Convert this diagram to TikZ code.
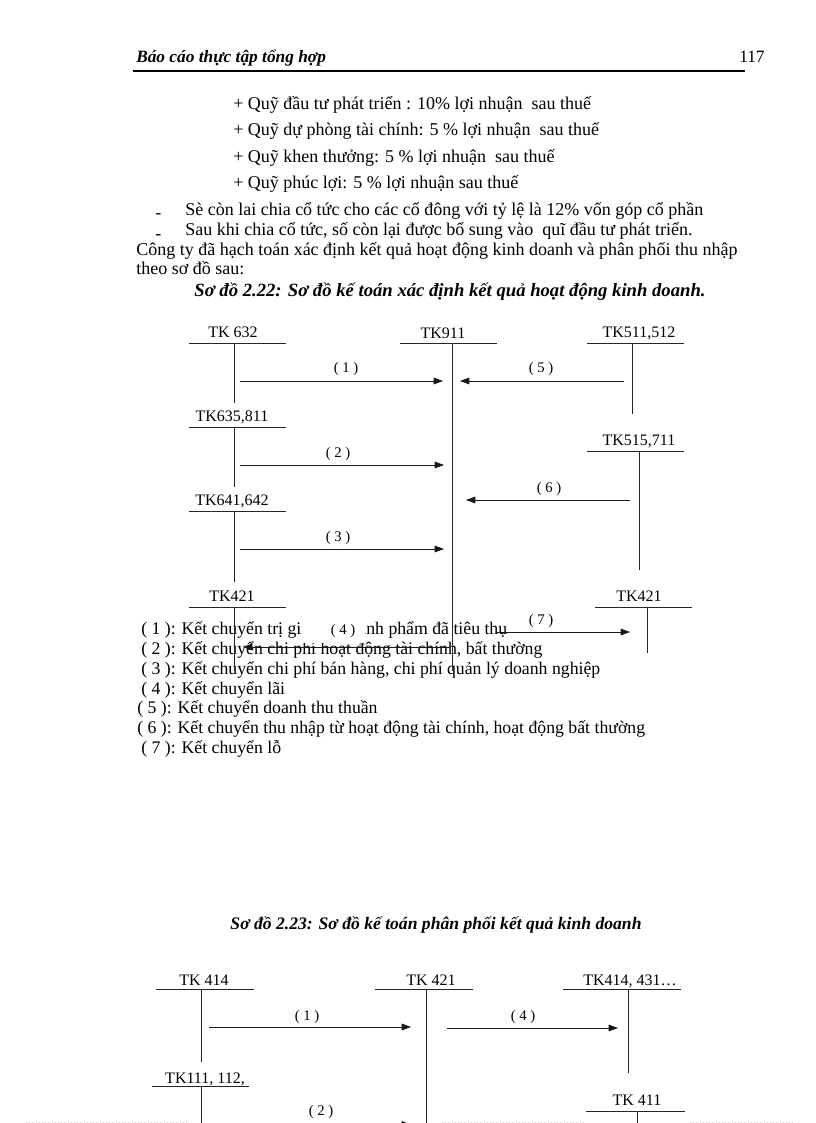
\documentclass[tikz,border=0pt]{standalone}
\usepackage{fontspec}
\setmainfont{Liberation Serif}
\usetikzlibrary{arrows.meta}

\begin{document}
\begin{tikzpicture}[x=0.75pt,y=-0.75pt,
  txt/.style={anchor=base west,inner sep=0pt,font=\fontsize{13.5}{15}\selectfont},
  capt/.style={anchor=base,inner sep=0pt,font=\fontsize{13.2}{15}\selectfont\bfseries\itshape},
  acc/.style={anchor=base,inner sep=0pt,font=\fontsize{12}{14}\selectfont},
  num/.style={anchor=base,inner sep=0pt,font=\fontsize{11}{13}\selectfont},
  lgd/.style={anchor=base west,inner sep=0pt,font=\fontsize{13.3}{15}\selectfont},
  tline/.style={line width=0.7pt,black!85},
  arr/.style={-{Triangle[length=7pt,width=5pt]},line width=0.6pt,black!90}]
\useasboundingbox (0,0) rectangle (816,1123);
\clip (0,0) rectangle (816,1123);
\fill[white] (0,0) rectangle (816,1123);

\node[txt,font=\fontsize{13}{15}\selectfont\bfseries\itshape] (head) at (136,63) {Báo cáo thực tập tổng hợp}; \node[txt,font=\fontsize{13}{15}\selectfont] (page) at (739,63) {117};
\draw[line width=1.5pt] (133,71) -- (745,71);

\node[txt] (quy1) at (233,110) {+ Quỹ đầu tư phát triển : 10\% lợi nhuận~ sau thuế};
\node[txt] (quy2) at (233,136) {+ Quỹ dự phòng tài chính: 5 \% lợi nhuận~ sau thuế};
\node[txt] (quy3) at (233,163) {+ Quỹ khen thưởng: 5 \% lợi nhuận~ sau thuế};
\node[txt] (quy4) at (233,189) {+ Quỹ phúc lợi: 5 \% lợi nhuận sau thuế};
\node[txt] (dash1) at (155,219) {-}; \node[txt] (line1) at (185,215) {Sè còn lai chia cổ tức cho các cổ đông với tỷ lệ là 12\% vốn góp cổ phần};
\node[txt] (dash2) at (155,239) {-}; \node[txt] (line2) at (185,235) {Sau khi chia cổ tức, số còn lại được bổ sung vào~ quĩ đầu tư phát triển.};
\node[txt] (line3) at (136,255) {Công ty đã hạch toán xác định kết quả hoạt động kinh doanh và phân phối thu nhập};
\node[txt] (line4) at (136,274) {theo sơ đồ sau:};
\node[capt,font=\fontsize{14}{16}\selectfont\bfseries\itshape] (cap1) at (450,296) {Sơ đồ 2.22: Sơ đồ kế toán xác định kết quả hoạt động kinh doanh.};

\node[lgd] (lg1) at (141,634) {( 1 ): Kết chuyển trị giá vốn thành phẩm đã tiêu thụ};
\node[lgd] (lg2) at (141,654) {( 2 ): Kết chuyển chi phí hoạt động tài chính, bất thường};
\node[lgd] (lg3) at (141,674) {( 3 ): Kết chuyển chi phí bán hàng, chi phí quản lý doanh nghiệp};
\node[lgd] (lg4) at (141,694) {( 4 ): Kết chuyển lãi};
\node[lgd] (lg5) at (137,713) {( 5 ): Kết chuyển doanh thu thuần};
\node[lgd] (lg6) at (137,733) {( 6 ): Kết chuyển thu nhập từ hoạt động tài chính, hoạt động bất thường};
\node[lgd] (lg7) at (141,753) {( 7 ): Kết chuyển lỗ};

\node[acc] (tk632) at (233,337) {TK 632}; \node[acc] (tk911) at (443,338) {TK911}; \node[acc] (tk511) at (639,337) {TK511,512};
\node[acc] (tk635) at (232,421) {TK635,811}; \node[acc] (tk515) at (639,445) {TK515,711};
\node[acc] (tk641) at (232,505) {TK641,642};
\node[acc] (tk421l) at (232,601) {TK421}; \node[acc] (tk421r) at (639,601) {TK421};

\draw[tline] (189,343) -- (286,343); \draw[tline] (234,343) -- (234,403);
\draw[tline] (400,343) -- (497,343); \draw[tline] (452,343) -- (452,671);
\draw[tline] (587,343) -- (684,343); \draw[tline] (632,343) -- (632,414);
\draw[tline] (189,427) -- (286,427); \draw[tline] (234,427) -- (234,487);
\draw[tline] (587,451) -- (684,451); \draw[tline] (639,451) -- (639,570);
\draw[tline] (189,511) -- (286,511); \draw[tline] (234,511) -- (234,582);
\draw[tline] (189,607) -- (286,607); \draw[tline] (234,607) -- (234,671);
\draw[tline] (595,607) -- (692,607); \draw[tline] (647,607) -- (647,653);

\node[num] (n1) at (346,372) {( 1 )}; \node[num] (n5) at (541,372) {( 5 )};
\node[num] (n2) at (338,457) {( 2 )}; \node[num] (n6) at (549,492) {( 6 )};
\node[num] (n3) at (338,541) {( 3 )}; \node[num] (n7) at (541,624) {( 7 )};
\node[num,anchor=west,fill=white,inner xsep=0pt,minimum height=18pt] (n4) at (302,631) {\hspace*{21.4pt}( 4 )\hspace*{7.6pt}};

\coordinate (a1s) at (240,381); \coordinate (a1e) at (443,381);
\coordinate (a5s) at (624,381); \coordinate (a5e) at (460,381);
\coordinate (a2s) at (240,465); \coordinate (a2e) at (444,465);
\coordinate (a6s) at (630,500); \coordinate (a6e) at (466,500);
\coordinate (a3s) at (240,549); \coordinate (a3e) at (444,549);
\coordinate (a4s) at (450,647); \coordinate (a4e) at (243,647);
\coordinate (a7s) at (497,632); \coordinate (a7e) at (630,632);
\draw[arr] (a1s) to (a1e); \draw[arr] (a5s) to (a5e);
\draw[arr] (a2s) to (a2e); \draw[arr] (a6s) to (a6e);
\draw[arr] (a3s) to (a3e); \draw[arr] (a4s) to (a4e); \draw[arr] (a7s) to (a7e);

\node[capt] (cap2) at (436,929) {Sơ đồ 2.23: Sơ đồ kế toán phân phối kết quả kinh doanh};

\node[acc] (tk414) at (204,985) {TK 414}; \node[acc] (tk421) at (431,985) {TK 421}; \node[acc] (tk431) at (630,985) {TK414, 431\ldots};
\node[acc] (tk111) at (205,1083) {TK111, 112,}; \node[acc] (tk411) at (637,1105) {TK 411};

\draw[tline] (156,989) -- (254,989); \draw[tline] (201,989) -- (201,1062);
\draw[tline] (375,989) -- (473,989); \draw[tline] (426,989) -- (426,1123);
\draw[tline] (563,989) -- (681,989); \draw[tline] (628,989) -- (628,1073);
\draw[tline] (152,1086) -- (249,1086); \draw[tline] (201,1086) -- (201,1123);
\draw[tline] (586,1111) -- (685,1111); \draw[tline] (637,1111) -- (637,1123);

\node[num] (m1) at (307,1020) {( 1 )}; \node[num] (m4) at (523,1020) {( 4 )}; \node[num] (m2) at (321,1115) {( 2 )};
\coordinate (b1s) at (209,1027); \coordinate (b1e) at (411,1027);
\coordinate (b4s) at (447,1028); \coordinate (b4e) at (618,1028);
\coordinate (b2s) at (209,1124.5); \coordinate (b2e) at (411,1124.5);
\draw[arr] (b1s) to (b1e); \draw[arr] (b4s) to (b4e); \draw[arr] (b2s) to (b2e);

\draw[gray!40,dotted] (26,1122) -- (188,1122); \draw[gray!40,dotted] (442,1122) -- (583,1122); \draw[gray!40,dotted] (690,1122) -- (795,1122);
\end{tikzpicture}
\end{document}
